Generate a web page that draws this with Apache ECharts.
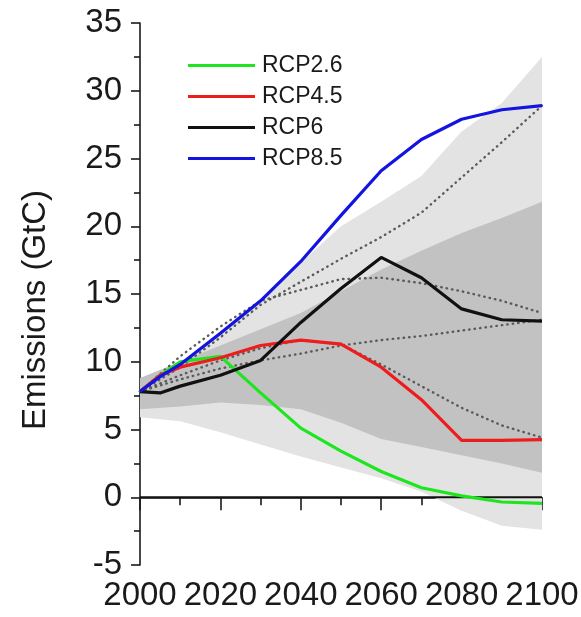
<!DOCTYPE html>
<html>
<head>
<meta charset="utf-8">
<script src="https://cdn.jsdelivr.net/npm/echarts@6/dist/echarts.min.js"></script>
<style>
  html, body { margin: 0; padding: 0; background: #fff; }
  #chart { width: 581px; height: 617px; }
</style>
</head>
<body>
<div id="chart"></div>
<script>
// RCP lines
let rcpYears = [2000, 2005, 2010, 2020, 2030, 2040, 2050, 2060, 2070, 2080, 2090, 2100];
let rcp26 = [7.8, 9.0, 10.0, 10.4, 7.7, 5.1, 3.4, 1.9, 0.7, 0.1, -0.35, -0.45];
let rcp45 = [7.8, 9.0, 9.6, 10.3, 11.2, 11.6, 11.3, 9.6, 7.2, 4.2, 4.2, 4.25];
let rcp6 = [7.8, 7.7, 8.2, 9.0, 10.1, 12.9, 15.4, 17.7, 16.2, 13.9, 13.1, 13.0];
let rcp85 = [7.8, 8.9, 9.8, 12.1, 14.5, 17.4, 20.8, 24.1, 26.4, 27.9, 28.6, 28.9];

// dotted reference scenarios + shaded ranges
let decades = [2000, 2010, 2020, 2030, 2040, 2050, 2060, 2070, 2080, 2090, 2100];
let dotA = [7.8, 10.4, 12.6, 14.5, 15.3, 16.1, 16.2, 15.8, 15.2, 14.5, 13.6];
let dotB = [7.8, 9.6, 11.8, 14.2, 15.9, 17.6, 19.2, 21.0, 23.6, 26.2, 28.9];
let dotC = [7.8, 9.0, 10.1, 11.0, 11.6, 11.3, 9.8, 8.2, 6.6, 5.3, 4.4];
let dotD = [7.8, 8.7, 9.5, 10.1, 10.6, 11.2, 11.6, 11.9, 12.3, 12.7, 13.1];
let lightUpper = [8.0, 9.9, 12.1, 14.5, 17.3, 20.0, 21.8, 23.7, 27.0, 29.1, 32.5];
let lightLower = [5.9, 5.6, 4.8, 3.9, 3.0, 2.2, 1.4, 0.4, -1.0, -2.1, -2.4];
let darkUpper = [8.8, 10.0, 11.2, 12.4, 13.6, 15.2, 16.8, 18.2, 19.5, 20.6, 21.8];
let darkLower = [6.5, 6.7, 7.0, 6.8, 6.5, 5.5, 4.3, 3.7, 3.1, 2.5, 1.8];

let xTicks = [2000, 2100];
let yTicks = [-5, 35];

let font = "'Liberation Sans', Arial, sans-serif";
let ink = "#1a1a1a";

function pairs(xs, ys) {
  return xs.map((x, i) => [x, ys[i]]);
}

function band(lower, upper, color) {
  return {
    type: "custom",
    silent: true,
    z: 1,
    data: decades.map((y, i) => [y, lower[i], upper[i]]),
    encode: { x: 0, y: [1, 2] },
    renderItem: function (params, api) {
      if (params.dataIndex !== 0) return;
      let pts = [];
      decades.forEach((y, i) => pts.push(api.coord([y, upper[i]])));
      for (let i = decades.length - 1; i >= 0; i--) {
        pts.push(api.coord([decades[i], lower[i]]));
      }
      return { type: "polygon", shape: { points: pts }, style: { fill: color } };
    },
  };
}

function dotted(vals) {
  return {
    type: "line",
    silent: true,
    showSymbol: false,
    z: 3,
    data: pairs(decades, vals),
    lineStyle: { color: "#5a5a5a", width: 2.4, type: [0.5, 5], cap: "round" },
  };
}

function rcp(name, vals, color) {
  return {
    name: name,
    type: "line",
    showSymbol: false,
    z: 5,
    color: color,
    data: pairs(rcpYears, vals),
    lineStyle: { color: color, width: 3.2 },
  };
}

let chart = echarts.init(document.getElementById("chart"));
chart.setOption({
  animation: false,
  backgroundColor: "#fff",
  grid: { left: 140, right: 39, top: 23, bottom: 52, outerBoundsMode: "none" },
  legend: {
    orient: "vertical",
    left: 183,
    top: 49,
    itemWidth: 67,
    itemHeight: 3,
    itemGap: 8,
    icon: "rect",
    data: ["RCP2.6", "RCP4.5", "RCP6", "RCP8.5"],
    textStyle: { fontFamily: font, fontSize: 23, color: ink, padding: [0, 0, 0, 2] },
  },
  xAxis: {
    type: "value",
    min: xTicks[0],
    max: xTicks[1],
    interval: 20,
    axisLine: { lineStyle: { color: ink, width: 1.6 } },
    axisTick: { length: 13, lineStyle: { color: ink, width: 1.6 } },
    minorTick: { show: true, splitNumber: 2, length: 8, lineStyle: { color: ink, width: 1.6 } },
    splitLine: { show: false },
    axisLabel: {
      margin: 14,
      fontFamily: font,
      fontSize: 33,
      color: ink,
      formatter: (v) => String(v),
    },
  },
  yAxis: {
    type: "value",
    min: yTicks[0],
    max: yTicks[1],
    interval: 5,
    axisLine: { show: true, lineStyle: { color: ink, width: 1.6 } },
    axisTick: { show: true, length: 9, lineStyle: { color: ink, width: 1.6 } },
    minorTick: { show: true, splitNumber: 2, length: 6, lineStyle: { color: ink, width: 1.6 } },
    splitLine: { show: false },
    axisLabel: { margin: 18, fontFamily: font, fontSize: 33, color: ink },
  },
  graphic: [
    {
      type: "text",
      x: 36,
      y: 310,
      rotation: Math.PI / 2,
      style: {
        text: "Emissions (GtC)",
        font: "33px " + font,
        fill: ink,
        textAlign: "center",
        textVerticalAlign: "middle",
      },
    },
  ],
  series: [
    band(lightLower, lightUpper, "#e3e3e3"),
    band(darkLower, darkUpper, "#c2c2c2"),
    {
      type: "line",
      silent: true,
      showSymbol: false,
      z: 2,
      data: [[xTicks[0], 0], [xTicks[1], 0]],
      lineStyle: { color: "#111", width: 1.8 },
    },
    dotted(dotA),
    dotted(dotB),
    dotted(dotC),
    dotted(dotD),
    rcp("RCP2.6", rcp26, "#1ee61e"),
    rcp("RCP4.5", rcp45, "#ee1c1c"),
    rcp("RCP6", rcp6, "#111111"),
    rcp("RCP8.5", rcp85, "#1414e0"),
  ],
});
</script>
</body>
</html>
